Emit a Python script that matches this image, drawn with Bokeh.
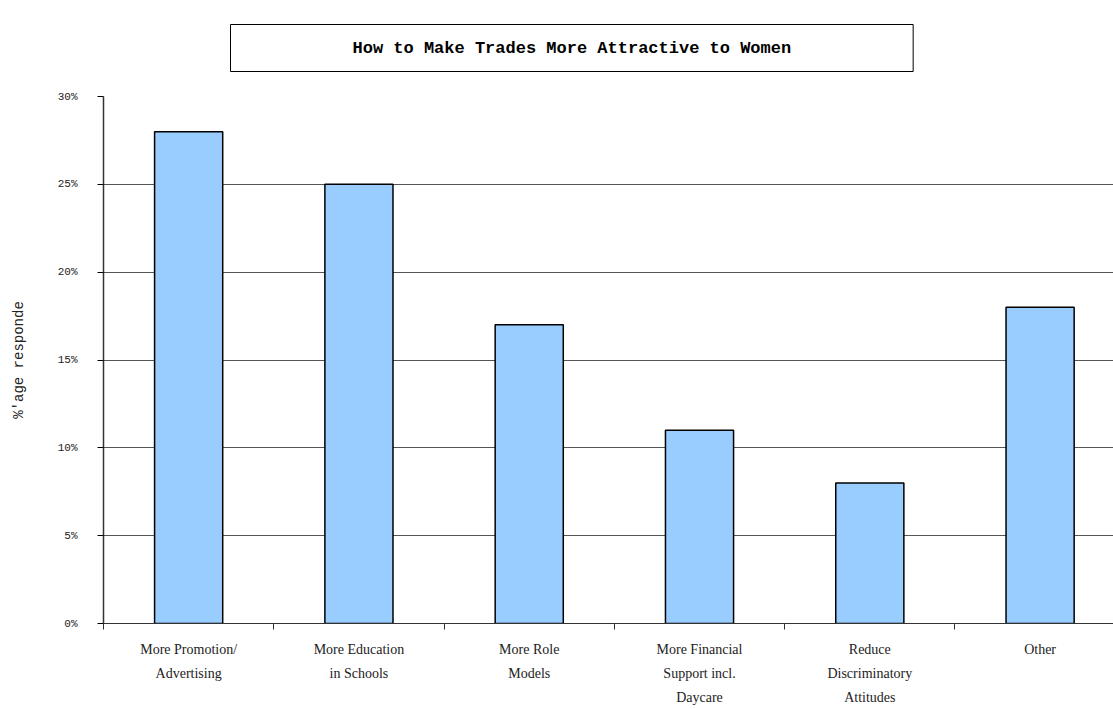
from bokeh.plotting import figure
from bokeh.models import (Range1d, FixedTicker, NumeralTickFormatter)
from bokeh.embed import file_html
from bokeh.resources import INLINE

title_text = "How to Make Trades More Attractive to Women"
y_label = "%'age responde"
categories = ["More Promotion/\nAdvertising", "More Education\nin Schools", "More Role\nModels",
              "More Financial\nSupport incl.\nDaycare", "Reduce\nDiscriminatory\nAttitudes", "Other"]
values = [0.28, 0.25, 0.17, 0.11, 0.08, 0.18]
y_ticks = [0.0, 0.05, 0.10, 0.15, 0.20, 0.25, 0.30]

n = len(categories)
centers = [i + 0.5 for i in range(n)]

p = figure(width=1113, height=709, output_backend="svg", toolbar_location=None,
           x_range=Range1d(0, 5.931), y_range=Range1d(0, 0.30),
           min_border_left=103, min_border_right=0, min_border_top=96, min_border_bottom=86)
p.outline_line_color = None
p.background_fill_color = "white"
p.border_fill_color = "white"

p.vbar(x=centers, top=values, width=0.4, bottom=0, fill_color="#99ccff",
       line_color="black", line_width=1.5)

# title with box
p.title.text = title_text
p.title.align = "left"
p.title.vertical_align = "top"
p.title.offset = 127
p.title.text_font = "Liberation Mono"
p.title.text_font_style = "bold"
p.title.text_font_size = "17px"
p.title.text_color = "black"
p.title.border_line_color = "black"
p.title.border_line_width = 1
p.title.background_fill_color = "white"
p.title.padding = (122, 14)
p.title.standoff = 46

# grid
p.xgrid.visible = False
p.ygrid.ticker = FixedTicker(ticks=y_ticks)
p.ygrid.grid_line_color = "#555555"
p.ygrid.grid_line_width = 1

# y axis
p.yaxis.ticker = FixedTicker(ticks=y_ticks)
p.yaxis.formatter = NumeralTickFormatter(format="0%")
p.yaxis.axis_line_color = "#333333"
p.yaxis.axis_line_width = 1.5
p.yaxis.major_tick_out = 6
p.yaxis.major_tick_in = 0
p.yaxis.minor_tick_line_color = None
p.yaxis.major_label_standoff = 20
p.yaxis.major_label_text_font = "Liberation Mono"
p.yaxis.major_label_text_font_size = "11px"
p.yaxis.major_label_text_color = "#222222"
p.yaxis.axis_label = y_label
p.yaxis.axis_label_text_font = "Liberation Mono"
p.yaxis.axis_label_text_font_style = "normal"
p.yaxis.axis_label_text_font_size = "14px"
p.yaxis.axis_label_text_color = "#222222"
p.yaxis.axis_label_standoff = 28

# x axis
p.xaxis.ticker = FixedTicker(ticks=centers, minor_ticks=[0, 1, 2, 3, 4, 5])
p.xaxis.major_label_overrides = {c: lab for c, lab in zip(centers, categories)}
p.xaxis.major_tick_line_color = None
p.xaxis.minor_tick_out = 6
p.xaxis.minor_tick_in = 0
p.xaxis.minor_tick_line_color = "#333333"
p.xaxis.axis_line_color = "#333333"
p.xaxis.axis_line_width = 1
p.xaxis.major_label_standoff = 12
p.xaxis.major_label_text_font = "Liberation Serif"
p.xaxis.major_label_text_font_size = "14px"
p.xaxis.major_label_text_color = "#222222"
p.xaxis.major_label_text_line_height = 1.6

open("out.html", "w").write(file_html(p, INLINE))
